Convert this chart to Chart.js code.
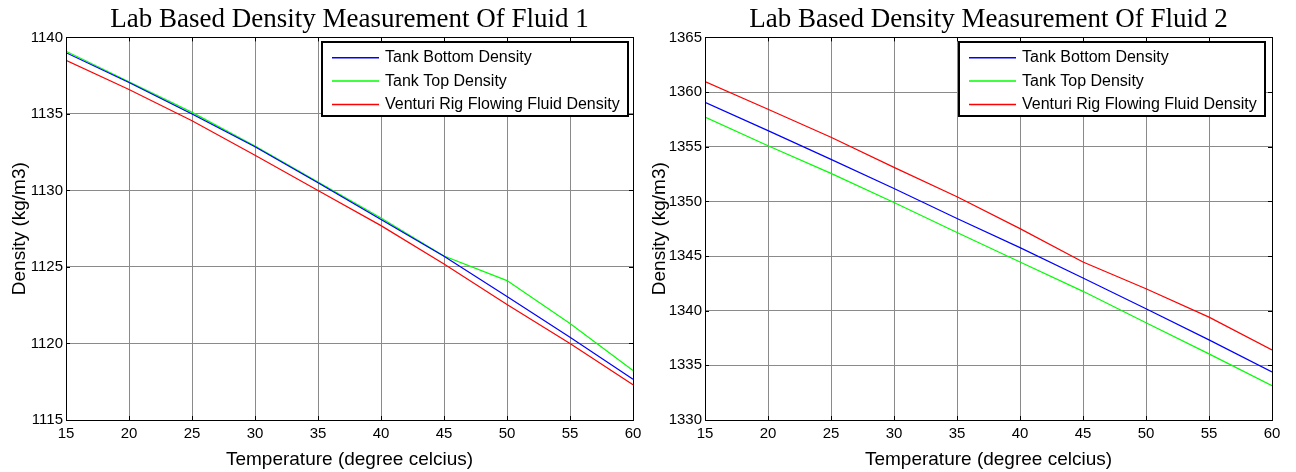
<!DOCTYPE html>
<html>
<head>
<meta charset="utf-8">
<script src="https://cdn.jsdelivr.net/npm/chart.js@4"></script>
<style>
    body { margin: 0; background: #fff; }
    #wrap { position: relative; width: 1296px; height: 472px; }
    canvas { position: absolute; top: 0; }
</style>
</head>
<body>
<div id="wrap">
    <canvas id="grafikFluid1" width="648" height="472" style="left:0"></canvas>
    <canvas id="grafikFluid2" width="648" height="472" style="left:648px"></canvas>
</div>
<script>
// Data (suhu dalam derajat celcius, densitas kg/m3)
var suhu = [15, 20, 25, 30, 35, 40, 45, 50, 55, 60];
var namaSeri = ['Tank Bottom Density', 'Tank Top Density', 'Venturi Rig Flowing Fluid Density'];
var warnaSeri = ['#0000ff', '#00ff00', '#ff0000'];

var fluid1Bottom = [1139.0, 1137.05, 1135.0, 1132.85, 1130.5, 1128.1, 1125.7, 1123.07, 1120.4, 1117.67];
var fluid1Top = [1139.1, 1137.1, 1135.1, 1132.9, 1130.55, 1128.2, 1125.72, 1124.11, 1121.3, 1118.24];
var fluid1Venturi = [1138.5, 1136.6, 1134.55, 1132.3, 1130.0, 1127.7, 1125.2, 1122.54, 1120.0, 1117.3];

var fluid2Bottom = [1359.07, 1356.47, 1353.84, 1351.18, 1348.43, 1345.77, 1342.99, 1340.18, 1337.33, 1334.4];
var fluid2Top = [1357.72, 1355.09, 1352.56, 1349.9, 1347.15, 1344.46, 1341.77, 1338.89, 1336.05, 1333.13];
var fluid2Venturi = [1360.96, 1358.43, 1355.86, 1353.11, 1350.42, 1347.51, 1344.46, 1342.01, 1339.41, 1336.4];

var sumbuY1 = [1115, 1140];
var sumbuY2 = [1330, 1365];

var fontSans = '"Liberation Sans", Arial, sans-serif';

// kotak sumbu, tick ke dalam, dan legenda di pojok kanan atas
var kotakPlugin = {
    id: 'kotak',
    afterDraw: function (chart, args, opts) {
        var ctx = chart.ctx;
        var a = chart.chartArea;
        var sx = chart.scales.x;
        var sy = chart.scales.y;
        ctx.save();
        ctx.strokeStyle = '#000';
        ctx.lineWidth = 1;
        ctx.beginPath();
        sx.ticks.forEach(function (t) {
            var px = Math.round(sx.getPixelForValue(t.value)) + 0.5;
            ctx.moveTo(px, a.top); ctx.lineTo(px, a.top + 4);
            ctx.moveTo(px, a.bottom); ctx.lineTo(px, a.bottom - 4);
        });
        sy.ticks.forEach(function (t) {
            var py = Math.round(sy.getPixelForValue(t.value)) + 0.5;
            ctx.moveTo(a.left, py); ctx.lineTo(a.left + 4, py);
            ctx.moveTo(a.right, py); ctx.lineTo(a.right - 4, py);
        });
        ctx.stroke();
        ctx.strokeRect(Math.round(a.left) + 0.5, Math.round(a.top) + 0.5,
            Math.round(a.right - a.left), Math.round(a.bottom - a.top));

        // legenda
        ctx.font = '16px ' + fontSans;
        var lebar = 0;
        chart.data.datasets.forEach(function (d) {
            lebar = Math.max(lebar, ctx.measureText(d.label).width);
        });
        var w = Math.round(63 + lebar + 8);
        var h = 74;
        var x0 = Math.round(a.right - opts.kanan - w);
        var y0 = Math.round(a.top + 5);
        ctx.fillStyle = '#fff';
        ctx.fillRect(x0, y0, w, h);
        ctx.lineWidth = 2;
        ctx.strokeStyle = '#000';
        ctx.strokeRect(x0, y0, w, h);
        chart.data.datasets.forEach(function (d, i) {
            var yy = y0 + 15.7 + i * 23.4;
            ctx.strokeStyle = d.borderColor;
            ctx.lineWidth = 1.5;
            ctx.beginPath();
            ctx.moveTo(x0 + 10, yy);
            ctx.lineTo(x0 + 57, yy);
            ctx.stroke();
            ctx.fillStyle = '#000';
            ctx.textAlign = 'left';
            ctx.textBaseline = 'middle';
            ctx.fillText(d.label, x0 + 63, yy);
        });
        ctx.restore();
    }
};

function buatSeri(nilai) {
    return nilai.map(function (v, i) { return { x: suhu[i], y: v }; });
}

function labelPolos(v) {
    return String(v);
}

function renderGrafik(id, judul, seri, rentangY, cfg) {
    var ctx = document.getElementById(id).getContext('2d');
    new Chart(ctx, {
        type: 'line',
        data: {
            datasets: seri.map(function (s, i) {
                return {
                    label: namaSeri[i],
                    data: buatSeri(s),
                    borderColor: warnaSeri[i],
                    backgroundColor: warnaSeri[i],
                    borderWidth: 1.2,
                    pointRadius: 0,
                    tension: 0,
                    fill: false
                };
            })
        },
        options: {
            responsive: false,
            animation: false,
            layout: { padding: { left: 0, right: cfg.kananPad, top: 0, bottom: 0 } },
            plugins: {
                legend: { display: false },
                tooltip: { enabled: false },
                title: {
                    display: true,
                    text: judul,
                    fullSize: false,
                    color: '#000',
                    font: { family: '"Liberation Serif", "Times New Roman", serif', size: 27, weight: 'normal', lineHeight: 1.2 },
                    padding: { top: 4, bottom: 1 }
                },
                kotak: { kanan: cfg.legendaKanan }
            },
            scales: {
                x: {
                    type: 'linear',
                    min: 15,
                    max: 60,
                    afterFit: function (scale) { scale.height = 52; },
                    ticks: { stepSize: 5, color: '#000', padding: 5, callback: labelPolos, font: { family: fontSans, size: 15 } },
                    grid: { color: '#8a8a8a', drawTicks: false },
                    border: { color: '#000' },
                    title: {
                        display: true,
                        text: 'Temperature (degree celcius)',
                        color: '#000',
                        font: { family: fontSans, size: 19, lineHeight: 1.2 },
                        padding: { top: 0, bottom: 1 }
                    }
                },
                y: {
                    min: rentangY[0],
                    max: rentangY[1],
                    afterFit: function (scale) { scale.width = cfg.lebarY; },
                    ticks: { stepSize: 5, color: '#000', padding: 3, callback: labelPolos, font: { family: fontSans, size: 15 } },
                    grid: { color: '#8a8a8a', drawTicks: false },
                    border: { color: '#000' },
                    title: {
                        display: true,
                        text: 'Density (kg/m3)',
                        color: '#000',
                        font: { family: fontSans, size: 19, lineHeight: 1.2 },
                        padding: { top: cfg.judulYPad, bottom: 0 }
                    }
                }
            }
        },
        plugins: [kotakPlugin]
    });
}

document.addEventListener('DOMContentLoaded', function () {
    renderGrafik('grafikFluid1', 'Lab Based Density Measurement Of Fluid 1',
        [fluid1Bottom, fluid1Top, fluid1Venturi], sumbuY1,
        { kananPad: 15, lebarY: 66, judulYPad: 8, legendaKanan: 5 });
    renderGrafik('grafikFluid2', 'Lab Based Density Measurement Of Fluid 2',
        [fluid2Bottom, fluid2Top, fluid2Venturi], sumbuY2,
        { kananPad: 24, lebarY: 57, judulYPad: 0, legendaKanan: 7 });
});
</script>
</body>
</html>
